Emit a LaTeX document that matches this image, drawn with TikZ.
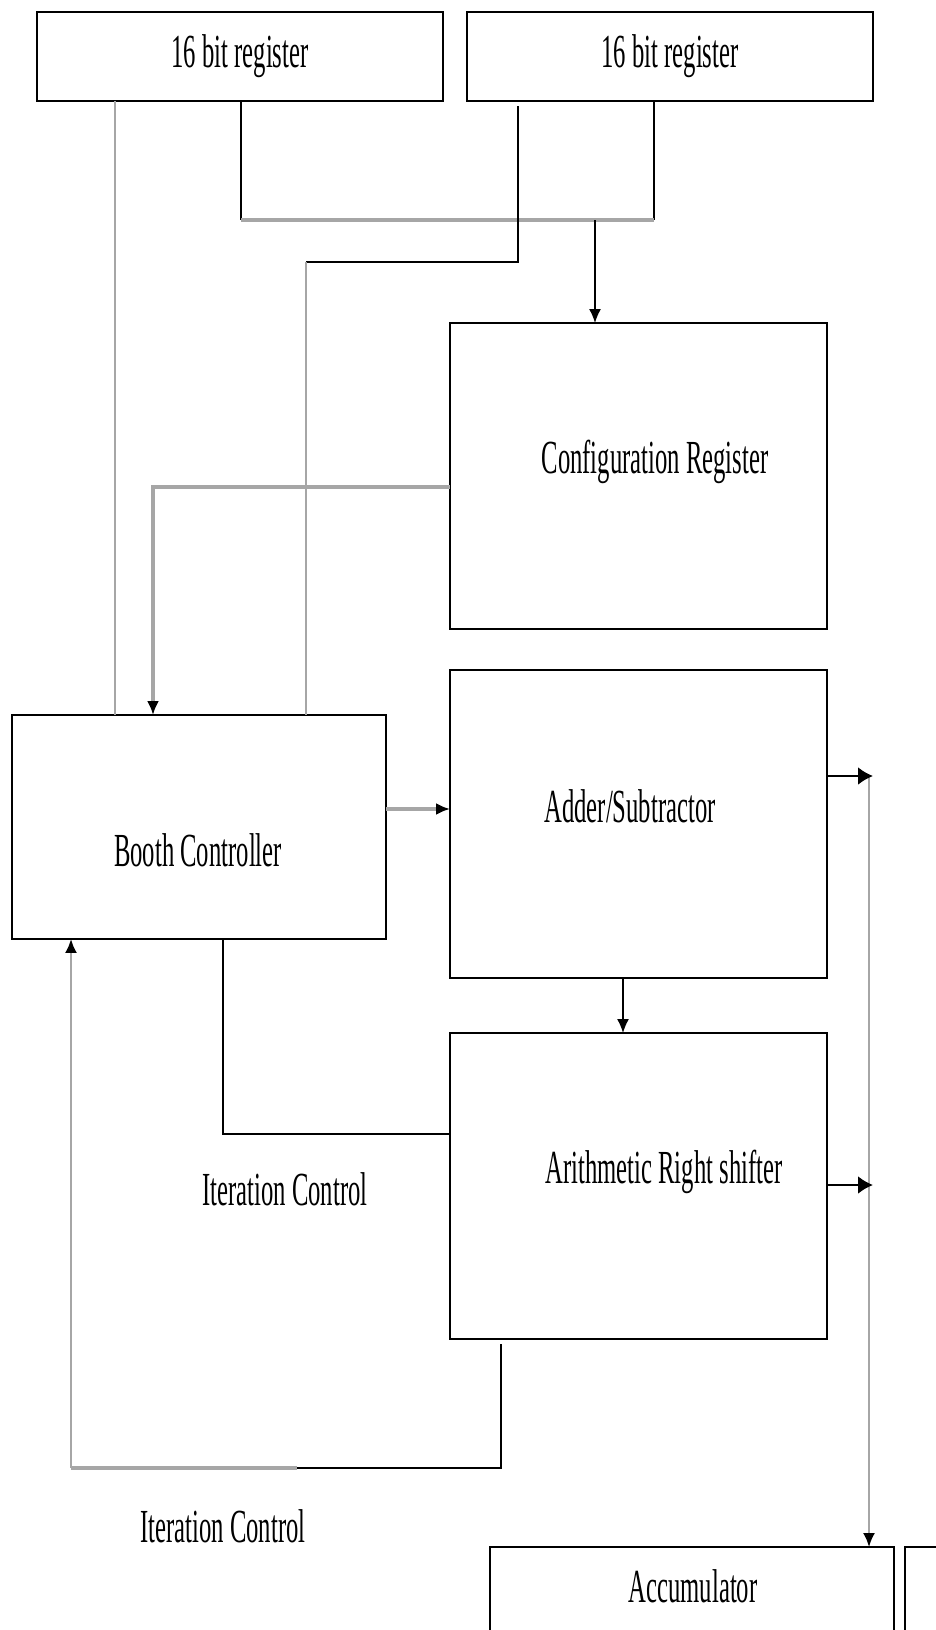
\documentclass[tikz,border=0pt]{standalone}
\usepackage{fontspec}
\setmainfont{Liberation Serif}
\usepackage{graphicx}
\usetikzlibrary{arrows.meta}
\newcommand{\cond}[1]{\scalebox{0.52}[1]{#1}}
\tikzset{
  blk/.style={draw, line width=1.1pt, inner sep=0pt, outer sep=0pt},
  lbl/.style={font=\fontsize{27}{32}\selectfont, inner sep=0pt, anchor=base},
  wire/.style={line width=0.9pt},
  gwire/.style={line width=1.2pt, color=black!35},
  gbus/.style={line width=2.2pt, color=black!35},
}
\begin{document}
\begin{tikzpicture}[x=0.02cm,y=-0.02cm,>={Latex[length=0.28cm,width=0.24cm,color=black]}]
\useasboundingbox (0,0) rectangle (936,1630);

\node[blk,minimum width=8.12cm,minimum height=1.78cm] (reg1) at (240,56.5) {\fontsize{27}{32}\selectfont\cond{16 bit register}};
\node[blk,minimum width=8.12cm,minimum height=1.78cm] (reg2) at (670,56.5) {\fontsize{27}{32}\selectfont\cond{16 bit register}};
\node[blk,minimum width=7.54cm,minimum height=6.12cm] (config) at (638.5,476) {};
\node[blk,minimum width=7.54cm,minimum height=6.16cm] (adder) at (638.5,824) {};
\node[blk,minimum width=7.54cm,minimum height=6.12cm] (shifter) at (638.5,1186) {};
\node[blk,minimum width=7.48cm,minimum height=4.48cm] (booth) at (199,827) {};
\node[blk,minimum width=8.08cm,minimum height=3.06cm] (acc) at (692,1623.5) {};
\node[blk,minimum width=3.9cm,minimum height=3.06cm] (accnext) at (1002.5,1623.5) {};

\node[lbl] (configtxt) at (655,473) {\cond{Configuration Register}};
\node[lbl] (addertxt) at (630,822) {\cond{Adder/Subtractor}};
\node[lbl] (shiftertxt) at (664,1183) {\cond{Arithmetic Right shifter}};
\node[lbl] (boothtxt) at (198,866) {\cond{Booth Controller}};
\node[lbl] (acctxt) at (693,1602) {\cond{Accumulator}};
\node[lbl] (itertxt) at (285,1205) {\cond{Iteration Control}};
\node[lbl] (itertxtb) at (223,1542) {\cond{Iteration Control}};

\coordinate (lnA) at (115,0);
\coordinate (busL) at (241,220);
\coordinate (busM) at (595,220);
\coordinate (busR) at (654,220);
\coordinate (jogR) at (518,262);
\coordinate (jogL) at (306,262);
\coordinate (cfgL) at (153,487);
\coordinate (ba) at (0,809);
\coordinate (outA) at (873,776);
\coordinate (outB) at (873,1185);
\coordinate (outTop) at (869,776);
\coordinate (ad) at (623,0);
\coordinate (bsA) at (223,1134);
\coordinate (fbR) at (501,1468);
\coordinate (fbM) at (297,1468);
\coordinate (fbL) at (71,1468);

\draw[gwire] (reg1.south -| lnA) -- (booth.north -| lnA);
\draw[wire] (reg1.south -| busL) -- (busL);
\draw[wire] (reg2.south -| busR) -- (busR);
\draw[gbus] (busL) -- (busR);
\draw[wire,->] (busM) -- (config.north -| busM);
\draw[wire] ([yshift=-3pt]reg2.south -| jogR) -- (jogR) -- (jogL);
\draw[gwire] (jogL) -- (booth.north -| jogL);

\draw[gbus,->] (config.west |- cfgL) -- (cfgL) -- (booth.north -| cfgL);
\draw[gbus,->] (booth.east |- ba) -- (adder.west |- ba);
\draw[wire,->] (adder.south -| ad) -- (shifter.north -| ad);

\draw[gwire,->] (outTop) -- (acc.north -| outTop);
\draw[wire,line width=1.4pt,->,>={Latex[length=0.3cm,width=0.36cm]}] (adder.east |- outA) -- (outA);
\draw[wire,line width=1.4pt,->,>={Latex[length=0.3cm,width=0.36cm]}] (shifter.east |- outB) -- (outB);

\draw[wire] (booth.south -| bsA) -- (bsA) -- (shifter.west |- bsA);
\draw[wire] ([yshift=-3pt]shifter.south -| fbR) -- (fbR) -- (fbM);
\draw[gbus] (fbM) -- (fbL);
\draw[gwire,->] (fbL) -- (booth.south -| fbL);
\end{tikzpicture}
\end{document}
